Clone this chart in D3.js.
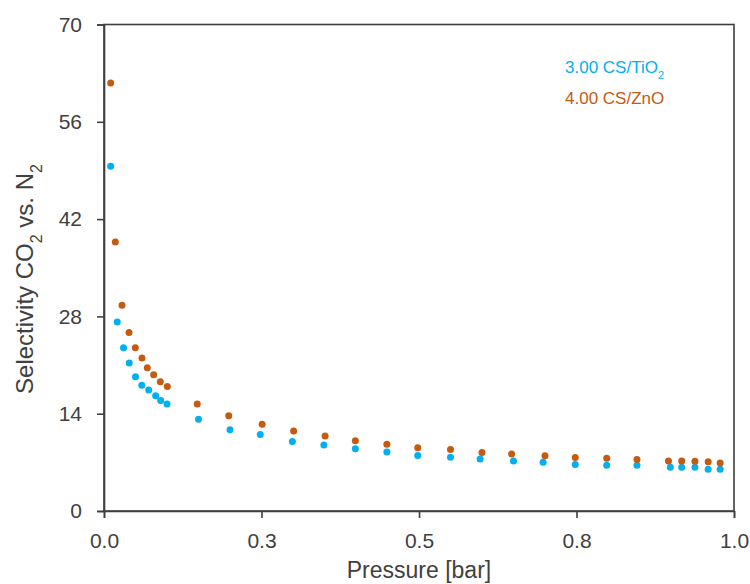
<!DOCTYPE html>
<html>
<head>
<meta charset="utf-8">
<script src="https://cdn.jsdelivr.net/npm/d3@7"></script>
<style>
  html, body { margin: 0; padding: 0; background: #fff; }
  svg text { font-family: "Liberation Sans", Arial, sans-serif; }
</style>
</head>
<body>
<svg id="chart" width="750" height="584"></svg>
<script>
// ---- data ----
const seriesNames = ["3.00 CS/TiO2", "4.00 CS/ZnO"];
const tio2Pressure = [0.0106, 0.021, 0.031, 0.040, 0.050, 0.060, 0.071, 0.082, 0.090, 0.100,
  0.150, 0.200, 0.248, 0.299, 0.349, 0.399, 0.449, 0.498, 0.550, 0.597,
  0.650, 0.697, 0.748, 0.798, 0.846, 0.899, 0.917, 0.938, 0.959, 0.978];
const tio2Selectivity = [49.6, 27.2, 23.5, 21.3, 19.3, 18.1, 17.4, 16.6, 15.9, 15.4,
  13.2, 11.7, 11.0, 10.0, 9.5, 8.95, 8.5, 8.0, 7.75, 7.5,
  7.2, 7.0, 6.7, 6.6, 6.6, 6.3, 6.3, 6.3, 6.0, 6.0];
const znoPressure = [0.0106, 0.018, 0.0286, 0.0397, 0.0497, 0.0603, 0.0687, 0.0789, 0.0894, 0.1005,
  0.148, 0.198, 0.251, 0.301, 0.351, 0.399, 0.449, 0.498, 0.550, 0.600,
  0.647, 0.700, 0.748, 0.798, 0.846, 0.896, 0.917, 0.938, 0.959, 0.978];
const znoSelectivity = [61.6, 38.7, 29.6, 25.7, 23.5, 22.0, 20.6, 19.6, 18.6, 17.9,
  15.4, 13.7, 12.5, 11.5, 10.8, 10.1, 9.6, 9.1, 8.85, 8.4,
  8.2, 7.95, 7.7, 7.6, 7.4, 7.2, 7.2, 7.15, 7.1, 6.9];
const xTicks = [0, 0.25, 0.5, 0.75, 1.0];
const xTickLabels = ["0.0", "0.3", "0.5", "0.8", "1.0"];
const yTicks = [0, 14, 28, 42, 56, 70];

// ---- layout ----
const svg = d3.select("#chart");
const mLeft = 104, mRight = 734, mTop = 24.5, mBottom = 511;
const x = d3.scaleLinear().domain([0, 1]).range([mLeft, mRight]);
const y = d3.scaleLinear().domain([0, 70]).range([mBottom, mTop]);
const axisColor = "#3f3f3f";
const labelColor = "#404040";
const colors = ["#00B0F0", "#C55A11"];

// frame (top and right borders)
svg.append("rect")
  .attr("x", mLeft).attr("y", mTop)
  .attr("width", mRight - mLeft).attr("height", mBottom - mTop)
  .attr("fill", "none").attr("stroke", axisColor).attr("stroke-width", 1.6);

// y axis
const gy = svg.append("g")
  .attr("transform", `translate(${mLeft},0)`)
  .call(d3.axisLeft(y).tickValues(yTicks).tickSize(7).tickPadding(15).tickFormat(d3.format("d")));
// x axis
const gx = svg.append("g")
  .attr("transform", `translate(0,${mBottom})`)
  .call(d3.axisBottom(x).tickValues(xTicks).tickSize(7).tickPadding(15)
    .tickFormat((d, i) => xTickLabels[i]));

[gx, gy].forEach(g => {
  g.select(".domain").attr("stroke", axisColor).attr("stroke-width", 1.6);
  g.selectAll(".tick line").attr("stroke", axisColor).attr("stroke-width", 1.6);
  g.selectAll(".tick text")
    .attr("fill", labelColor)
    .style("font-family", "'Liberation Sans', Arial, sans-serif")
    .style("font-size", "21px");
});

// points
const series = [
  { p: tio2Pressure, s: tio2Selectivity, c: colors[0] },
  { p: znoPressure, s: znoSelectivity, c: colors[1] }
];
series.forEach(ser => {
  svg.append("g").selectAll("circle")
    .data(ser.p.map((p, i) => [p, ser.s[i]]))
    .join("circle")
    .attr("cx", d => x(d[0]))
    .attr("cy", d => y(d[1]))
    .attr("r", 3.5)
    .attr("fill", ser.c);
});

// axis titles
svg.append("text")
  .attr("x", 419).attr("y", 578)
  .attr("text-anchor", "middle")
  .attr("fill", labelColor)
  .style("font-size", "23px")
  .text("Pressure [bar]");

const yt = svg.append("text")
  .attr("transform", `translate(33,279) rotate(-90)`)
  .attr("text-anchor", "middle")
  .attr("fill", labelColor)
  .style("font-size", "24px");
yt.append("tspan").text("Selectivity CO");
yt.append("tspan").attr("baseline-shift", "sub").style("font-size", "16px").text("2");
yt.append("tspan").text(" vs. N");
yt.append("tspan").attr("baseline-shift", "sub").style("font-size", "16px").text("2");

// legend
const lg = svg.append("g");
const l1 = lg.append("text").attr("x", 565).attr("y", 73)
  .attr("fill", colors[0]).style("font-size", "17px");
l1.append("tspan").text("3.00 CS/TiO");
l1.append("tspan").attr("baseline-shift", "sub").style("font-size", "11px").text("2");
lg.append("text").attr("x", 565).attr("y", 104)
  .attr("fill", colors[1]).style("font-size", "17px")
  .text(seriesNames[1]);
</script>
</body>
</html>
